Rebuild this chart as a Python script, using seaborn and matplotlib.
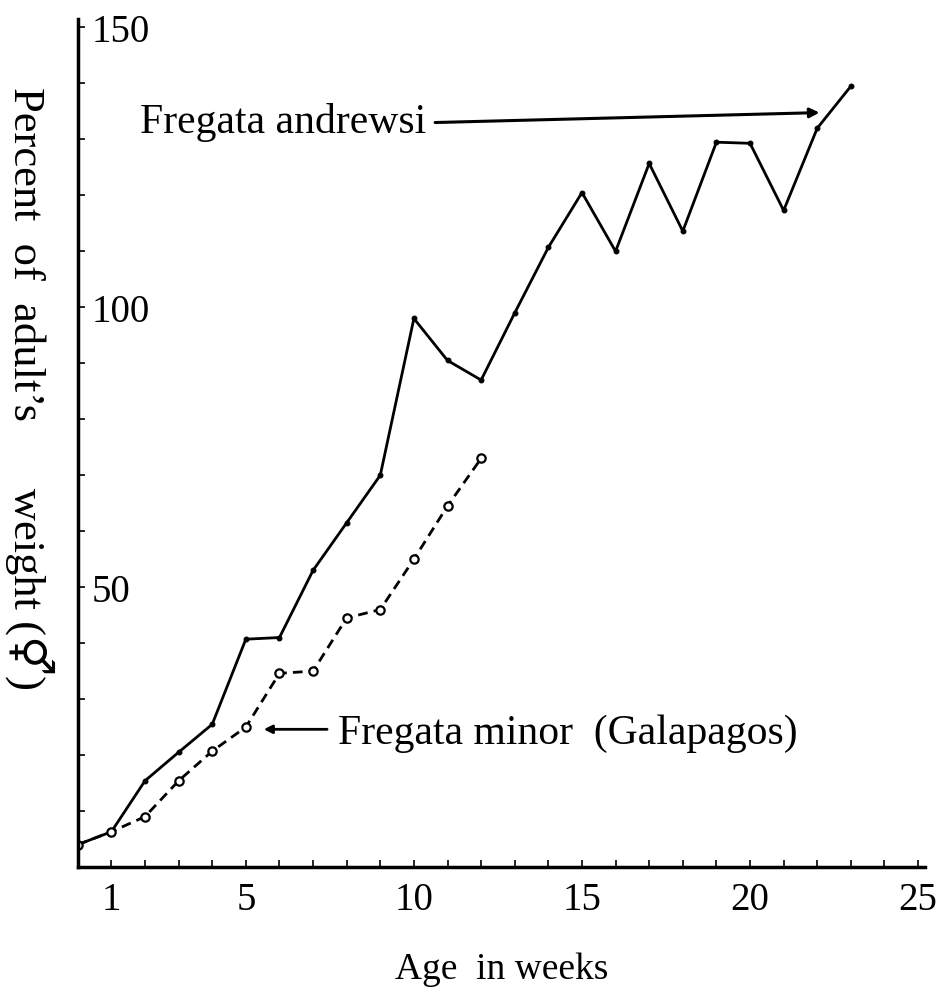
import numpy as np
import pandas as pd
import matplotlib
matplotlib.use("Agg")
import matplotlib.pyplot as plt
from matplotlib.ticker import MultipleLocator, FixedLocator
import seaborn as sns

# ---- data ----
weeks_andrewsi = list(range(0, 24))
pct_andrewsi = [4, 6.3, 15.4, 20.5, 25.5, 40.7, 41, 53, 61.5, 70, 98, 90.5,
                87, 99, 110.7, 120.5, 110, 125.7, 113.6, 129.5, 129.3, 117.3,
                132, 139.5]
weeks_minor = list(range(0, 13))
pct_minor = [4, 6.3, 9, 15.4, 20.7, 25, 34.6, 35, 44.5, 46, 55, 64.5, 73]

x_tick_labels = [1, 5, 10, 15, 20, 25]
y_tick_labels = [50, 100, 150]
label_andrewsi = "Fregata andrewsi"
label_minor = "Fregata minor  (Galapagos)"
x_title = "Age  in weeks"
y_title = "Percent  of  adult\u2019s      weight (\u26a5)"

df_a = pd.DataFrame({"week": weeks_andrewsi, "pct": pct_andrewsi})
df_m = pd.DataFrame({"week": weeks_minor, "pct": pct_minor})

sns.set_theme(style="white")
serif = ["Liberation Serif", "DejaVu Serif", "DejaVu Sans"]
plt.rcParams["font.family"] = serif

fig = plt.figure(figsize=(9.37, 10.03), dpi=100)
ax = fig.add_axes([0.083, 0.1346, 0.904, 0.8454])

sns.lineplot(data=df_a, x="week", y="pct", ax=ax, color="black",
             linewidth=2.0, marker="o", markersize=3.5,
             markerfacecolor="black", markeredgecolor="black")
sns.lineplot(data=df_m, x="week", y="pct", ax=ax, color="black",
             linewidth=2.0, linestyle=(0, (3.5, 2.2)), marker="o",
             markersize=6, markerfacecolor="white",
             markeredgecolor="black", markeredgewidth=1.6)

ax.set_xlim(0, 25.2)
ax.set_ylim(0, 151.5)

for s in ["top", "right"]:
    ax.spines[s].set_visible(False)
for s in ["left", "bottom"]:
    ax.spines[s].set_color("black")
    ax.spines[s].set_linewidth(2.5)

ax.xaxis.set_major_locator(FixedLocator(x_tick_labels))
ax.xaxis.set_minor_locator(MultipleLocator(1))
ax.yaxis.set_major_locator(FixedLocator(y_tick_labels))
ax.yaxis.set_minor_locator(MultipleLocator(10))
ax.set_xticklabels([str(v) for v in x_tick_labels])
ax.set_yticklabels([str(v) for v in y_tick_labels])

ax.tick_params(axis="x", which="both", direction="in", length=5, width=1.2,
               colors="black", labelsize=28, pad=10, bottom=True)
ax.tick_params(axis="y", which="both", direction="in", length=5, width=1.2,
               colors="black", labelsize=28, left=True)
for lab in ax.get_yticklabels():
    lab.set_horizontalalignment("left")
ax.tick_params(axis="y", pad=-10)

ax.set_xlabel(x_title, fontsize=27, labelpad=24, color="black")
ax.set_ylabel("")
fig.text(0.032, 0.613, y_title, rotation=270, fontsize=32,
         ha="center", va="center", color="black", family=serif)

ax.annotate("", xy=(22.15, 134.8), xytext=(10.55, 133.0),
            arrowprops=dict(arrowstyle="-|>", color="black", lw=2.2,
                            mutation_scale=14))
ax.text(10.35, 133.2, label_andrewsi, fontsize=30, ha="right",
        va="center", color="black")

ax.annotate("", xy=(5.45, 24.6), xytext=(7.5, 24.6),
            arrowprops=dict(arrowstyle="-|>", color="black", lw=2.0,
                            mutation_scale=12))
ax.text(7.75, 24.0, label_minor, fontsize=30, ha="left", va="center",
        color="black")

fig.savefig("out.png", dpi=100, facecolor="white")
